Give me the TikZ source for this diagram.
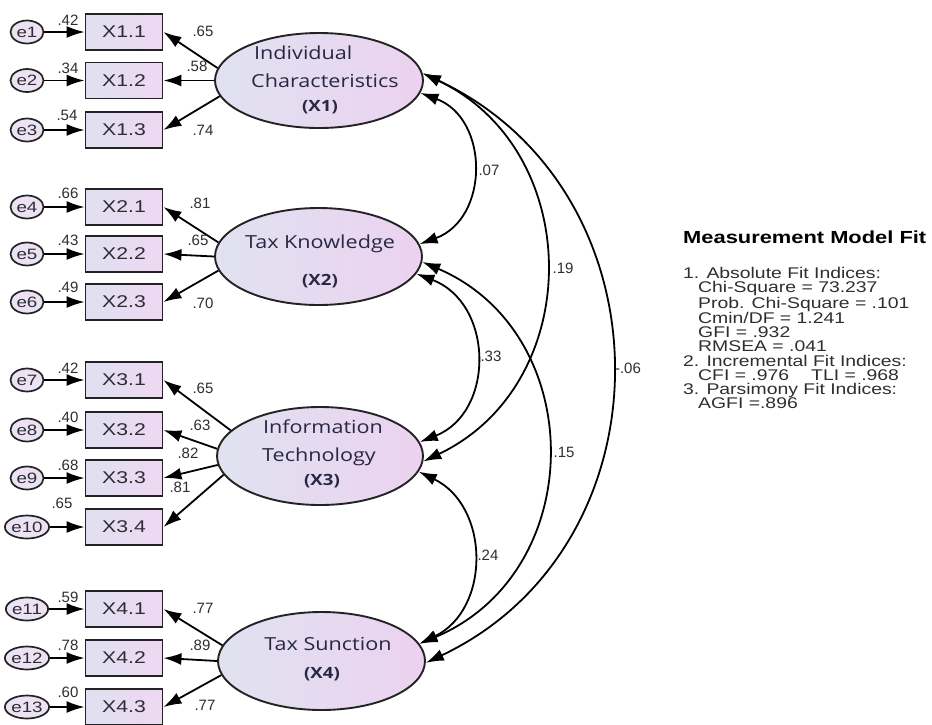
\documentclass[tikz,border=0pt]{standalone}
\usepackage{fontspec}
\setmainfont{Liberation Sans}[FakeStretch=1.25]
\newfontfamily\numfont{Liberation Sans}
\newfontfamily\latfont{Open Sans}[FakeStretch=1.2]
\usetikzlibrary{shapes.geometric,arrows.meta}
\definecolor{boxL}{RGB}{224,224,240}
\definecolor{boxR}{RGB}{238,216,242}
\definecolor{latL}{RGB}{224,226,240}
\definecolor{latR}{RGB}{236,210,240}
\definecolor{errfill}{RGB}{236,226,244}
\definecolor{edge}{RGB}{35,35,35}
\definecolor{txt}{RGB}{45,45,50}
\definecolor{lattxt}{RGB}{40,40,70}
\tikzset{
 errc/.style={ellipse, draw=edge, line width=1.7pt, fill=errfill, minimum width=33pt, minimum height=23pt, inner sep=0pt, text=txt, font=\fontsize{15}{15}\selectfont},
 obs/.style={rectangle, draw=edge, line width=1.9pt, left color=boxL, right color=boxR, minimum width=77pt, minimum height=36pt, inner sep=0pt, text=txt, font=\fontsize{17}{17}\selectfont},
 lat/.style={ellipse, draw=edge, line width=1.9pt, left color=latL, right color=latR, inner sep=0pt},
 lattext/.style={font=\latfont\fontsize{18}{18}\selectfont, text=lattxt, inner sep=0pt},
 latid/.style={font=\latfont\bfseries\fontsize{15.5}{15.5}\selectfont, text=lattxt, inner sep=0pt, anchor=base},
 arr/.style={-{Latex[length=18pt,width=12pt]}, line width=1.8pt},
 cov/.style={{Latex[length=18pt,width=12pt]}-{Latex[length=18pt,width=12pt]}, line width=1.8pt},
 lbl/.style={font=\numfont\fontsize{15}{15}\selectfont, text=txt, inner sep=0pt},
}
\begin{document}
\begin{tikzpicture}[x=1pt,y=-1pt]
\useasboundingbox (0,0) rectangle (932,724);
% latent variables
\node[lat, minimum width=208pt, minimum height=95pt] (X1) at (319,80.5) {};
\node[lat, minimum width=207pt, minimum height=97pt] (X2) at (318.5,256.5) {};
\node[lat, minimum width=206pt, minimum height=98pt] (X3) at (320,456) {};
\node[lat, minimum width=207pt, minimum height=98pt] (X4) at (321.5,661) {};
\node[lattext, anchor=base west] (t1a) at (254,59) {Individual};
\node[lattext, anchor=base west] (t1b) at (251,87) {Characteristics};
\node[latid] (t1c) at (320,111) {(X1)};
\node[lattext, anchor=base] (t2a) at (320,248) {Tax Knowledge};
\node[latid] (t2b) at (320,285) {(X2)};
\node[lattext, anchor=base] (t3a) at (323,433) {Information};
\node[lattext, anchor=base] (t3b) at (319,461) {Technology};
\node[latid] (t3c) at (322,485) {(X3)};
\node[lattext, anchor=base] (t4a) at (328,650) {Tax Sunction};
\node[latid] (t4b) at (322,678) {(X4)};
% observed variables
\foreach \n/\lab/\y in {x11/X1.1/32, x12/X1.2/80.5, x13/X1.3/130,
  x21/X2.1/207, x22/X2.2/254, x23/X2.3/302,
  x31/X3.1/380, x32/X3.2/430, x33/X3.3/478, x34/X3.4/527,
  x41/X4.1/609, x42/X4.2/658, x43/X4.3/707}{
  \node[obs] (\n) at (124,\y) {\lab};
}
% errors
\foreach \e/\n/\y/\ev/\evx/\evy in {1/x11/32/.42/68/20, 2/x12/80.5/.34/68/68, 3/x13/130/.54/67/115,
  4/x21/207/.66/68/193, 5/x22/254/.43/68/240, 6/x23/302/.49/68/287,
  7/x31/380/.42/68/368, 8/x32/430/.40/68/417, 9/x33/478/.68/68/465, 10/x34/527/.65/62/503,
  11/x41/609/.59/68/597, 12/x42/658/.78/68/645, 13/x43/707/.60/68/692}{
  \node[errc] (e\e) at (27,\y) {e\e};
  \draw[arr] (e\e) -- (\n);
  \node[lbl] (ev\e) at (\evx,\evy) {\ev};
}
% loadings
\draw[arr] (X1.173) -- (x11.east);
\draw[arr] (X1.180) -- (x12.east);
\draw[arr] (X1.189) -- (x13.east);
\draw[arr] (X2.172) -- (x21.east);
\draw[arr] (X2.180) -- (x22.east);
\draw[arr] (X2.188) -- (x23.east);
\draw[arr] (X3.164) -- (x31.east);
\draw[arr] (X3.176) -- (x32.east);
\draw[arr] (X3.185) -- (x33.east);
\draw[arr] (X3.191) -- (x34.east);
\draw[arr] (X4.171) -- (x41.east);
\draw[arr] (X4.180) -- (x42.east);
\draw[arr] (X4.188) -- (x43.east);
\foreach \v/\x/\y in {.65/203/31, .58/197/66, .74/203/130, .81/200/203, .65/198/240, .70/203/303,
  .65/203/388, .63/200/425, .82/188/453, .81/180/487, .77/203/608, .89/200/645, .77/205/705}{
  \node[lbl] at (\x,\y) {\v};
}
% covariances
\draw[cov] (X1.-7) .. controls (489.5,118.7) and (489.5,218.5) .. (X2.7);
\draw[cov] (X1.4) .. controls (585.6,150.6) and (586,384) .. (X3.-3);
\draw[cov] (X1.4) .. controls (673,190.6) and (674,545.5) .. (X4.-1);
\draw[cov] (X2.-10) .. controls (494,303.4) and (495,412.3) .. (X3.8);
\draw[cov] (X2.-3) .. controls (589,333.4) and (589,572.4) .. (X4.10);
\draw[cov] (X3.-9) .. controls (490,506.3) and (490.8,609.1) .. (X4.10);
\node[lbl] (c12) at (489,170) {.07};
\node[lbl] (c13) at (563,268) {.19};
\node[lbl] (c14) at (628,368) {-.06};
\node[lbl] (c23) at (491,356) {.33};
\node[lbl] (c24) at (564,452) {.15};
\node[lbl] (c34) at (488,555) {.24};
% fit panel
\node[font=\bfseries\fontsize{17.5}{17.5}\selectfont, anchor=west, inner sep=0pt, text=black] (title) at (683,237) {Measurement Model Fit};
\node[anchor=north west, align=left, inner sep=0pt, font=\fontsize{15.5}{14.2}\selectfont, text=txt] (fit) at (683,267) {1. Absolute Fit Indices:\\
\hspace*{15pt}Chi-Square = 73.237\\
\hspace*{15pt}Prob. Chi-Square = .101\\
\hspace*{15pt}Cmin/DF = 1.241\\
\hspace*{15pt}GFI = .932\\
\hspace*{15pt}RMSEA = .041\\
2. Incremental Fit Indices:\\
\hspace*{15pt}CFI = .976\hspace*{22pt}TLI = .968\\
3. Parsimony Fit Indices:\\
\hspace*{15pt}AGFI =.896};
\end{tikzpicture}
\end{document}
